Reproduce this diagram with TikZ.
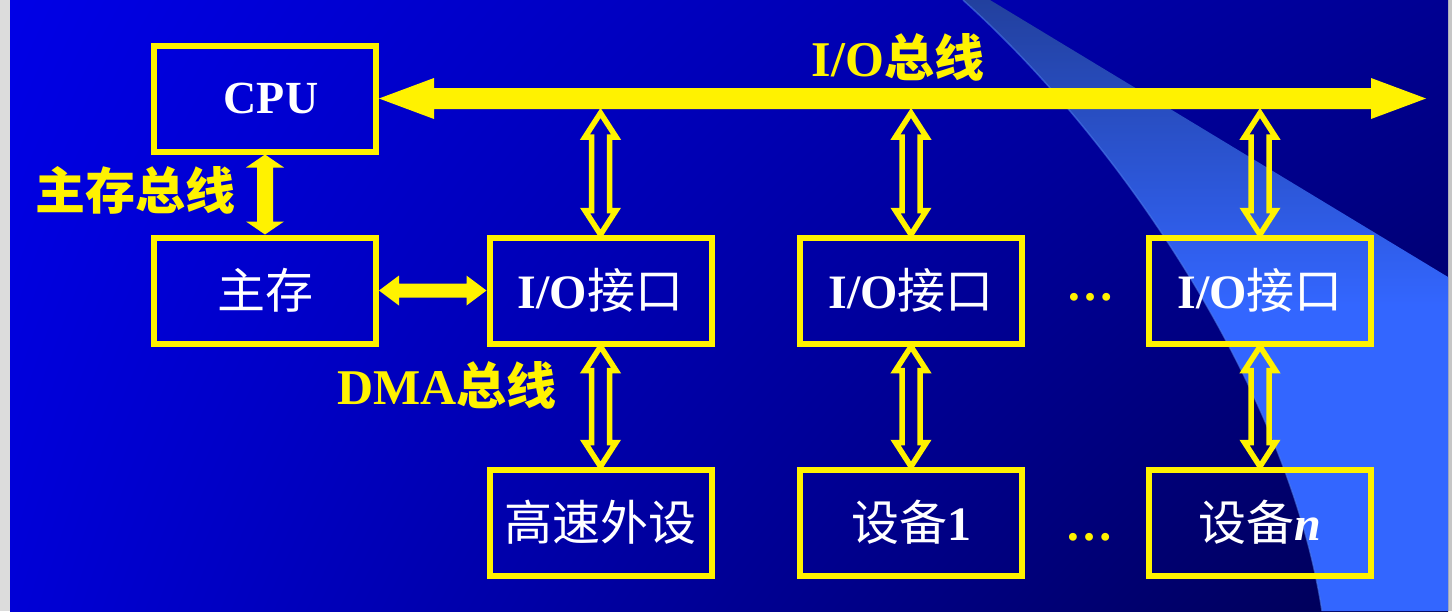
\documentclass[tikz,border=0pt]{standalone}
\usepackage{fontspec}
\setmainfont{Liberation Serif}
\newfontfamily\cjk{Noto Sans CJK SC}
\usetikzlibrary{calc,shadings}

\definecolor{bgTL}{HTML}{0000E6}
\definecolor{bgTR}{HTML}{000092}
\definecolor{bgBL}{HTML}{0000D6}
\definecolor{bgBR}{HTML}{000050}
\definecolor{swTop}{HTML}{22409E}
\definecolor{swMain}{HTML}{3366FF}
\definecolor{swLine}{HTML}{4A78E8}
\definecolor{edgegrey}{HTML}{DCDCDC}

% regular-weight Chinese text inside the white block labels
\newcommand{\zh}[1]{{\cjk\mdseries #1}}

\begin{document}
\begin{tikzpicture}[x=1pt, y=-1pt,
  box/.style={draw=yellow, line width=6pt, minimum width=222pt, minimum height=106pt,
    inner sep=0pt, text=white, font=\fontsize{48}{56}\selectfont\bfseries},
  lbl/.style={text=yellow, inner sep=0pt, font=\fontsize{50}{58}\selectfont\bfseries},
  dotrow/.style={text=yellow, inner sep=0pt, font=\fontsize{48}{56}\selectfont\bfseries},
  % vertical double arrow outline: #1 head half width, #2 head length, #3 shaft half width
  fatv/.style n args={3}{to path={let \p1=(\tikztostart), \p2=(\tikztotarget) in
    (\x1,\y1) -- (\x1-#1,\y1-#2) -- (\x1-#3,\y1-#2) -- (\x1-#3,\y2+#2) -- (\x1-#1,\y2+#2)
    -- (\x1,\y2) -- (\x1+#1,\y2+#2) -- (\x1+#3,\y2+#2) -- (\x1+#3,\y1-#2) -- (\x1+#1,\y1-#2) -- cycle}},
  % horizontal double arrow outline
  fath/.style n args={3}{to path={let \p1=(\tikztostart), \p2=(\tikztotarget) in
    (\x1,\y1) -- (\x1+#2,\y1+#1) -- (\x1+#2,\y1+#3) -- (\x2-#2,\y1+#3) -- (\x2-#2,\y1+#1)
    -- (\x2,\y1) -- (\x2-#2,\y1-#1) -- (\x2-#2,\y1-#3) -- (\x1+#2,\y1-#3) -- (\x1+#2,\y1-#1) -- cycle}},
  hollow/.style={draw=yellow, line width=5.5pt, line join=miter, fatv={15.5pt}{24pt}{9pt}},
]
\useasboundingbox (0,0) rectangle (1452,611);

% slide background
\fill[edgegrey] (0,0) rectangle (10,611);
\fill[edgegrey!90!black] (1448,0) rectangle (1452,611);
\shade[upper left=bgTL, upper right=bgTR, lower left=bgBL, lower right=bgBR]
  (10,0) rectangle (1448,611);
\shade[top color=swTop, bottom color=swMain, middle color=swMain]
  (963,0) .. controls (1130,150) and (1290,400) .. (1322,611)
  -- (1448,611) -- (1448,277) -- (990,0) -- cycle;
\draw[swLine, line width=1.5pt, opacity=0.6]
  (963,0) .. controls (1130,150) and (1290,400) .. (1322,611);

% blocks
\node[box, font=\fontsize{46}{54}\selectfont\bfseries] (cpu) at (265,98.5) {\hspace*{12pt}CPU};
\node[box] (mem)  at (265,290.5)   {\zh{主存}};
\node[box] (io1)  at (600.5,290.5) {I/O\zh{接口}};
\node[box] (io2)  at (911,290.5)   {I/O\zh{接口}};
\node[box] (io3)  at (1260,290.5)  {I/O\zh{接口}};
\node[box] (hs)   at (600.5,522.5) {\zh{高速外设}};
\node[box] (dev1) at (911,522.5)   {\zh{设备}1};
\node[box] (devn) at (1260,522.5)  {\zh{设备}\textit{n}};

% labels
\node[lbl] (lblio)  at (898,57)  {I/O{\cjk 总线}};
\node[lbl] (lblmem) at (135,190) {{\cjk 主存总线}};
\node[lbl] (lbldma) at (447,385) {DMA{\cjk 总线}};
\node[dotrow] (dotsa) at (1090,297) {…};
\node[dotrow] (dotsb) at (1089,537) {…};

% bus ends
\coordinate (busend) at (1426,98.5);
\coordinate (tap) at (0,113);

% solid buses
\fill[yellow, fath={20.5pt}{55pt}{10.5pt}] (cpu.east) to (busend);
\fill[yellow, fatv={19pt}{13pt}{8pt}] (cpu.south) to (mem.north);
\fill[yellow, fath={15pt}{20pt}{7pt}] (mem.east) to (io1.west);

% hollow links
\draw[hollow] (io1.north |- tap) to (io1.north);
\draw[hollow] (io2.north |- tap) to (io2.north);
\draw[hollow] (io3.north |- tap) to (io3.north);
\draw[hollow] (io1.south) to (hs.north);
\draw[hollow] (io2.south) to (dev1.north);
\draw[hollow] (io3.south) to (devn.north);
\end{tikzpicture}
\end{document}
